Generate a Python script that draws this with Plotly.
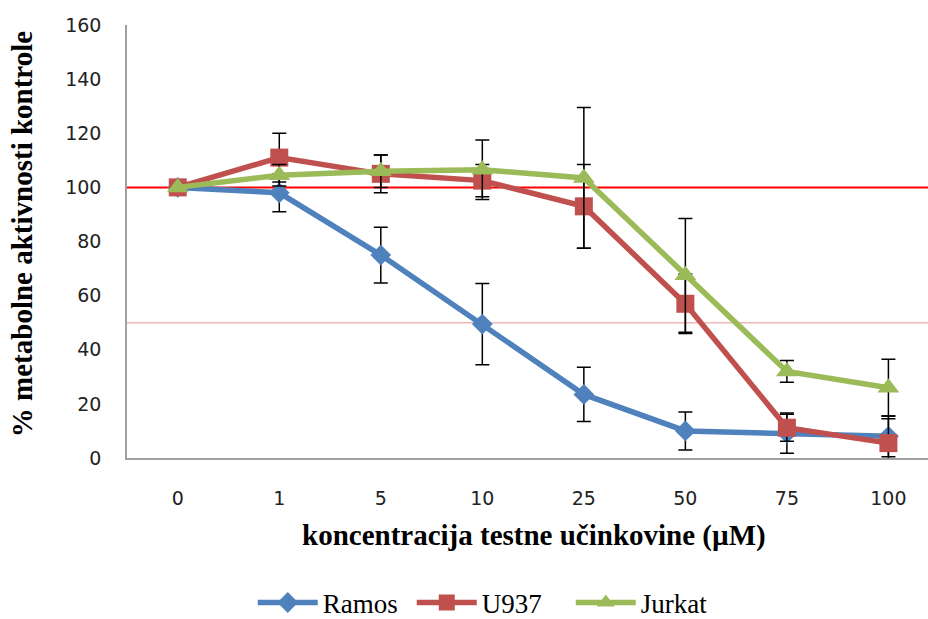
import plotly.graph_objects as go

categories = ["0", "1", "5", "10", "25", "50", "75", "100"]
ramos = [100, 98, 75, 49.5, 23.5, 10, 9.2, 8]
ramos_err = [0, 7, 10.3, 15, 10, 7, 7.4, 7.5]
u937 = [100, 111, 105, 102.5, 93, 57, 11.2, 5.5]
u937_err = [0, 9, 7, 6, 15.5, 11, 5, 9]
jurkat = [100, 104.5, 106, 106.5, 103.5, 67.5, 32, 26]
jurkat_err = [0, 4, 6, 11, 26, 21, 4, 10.5]

series = [
    ("Ramos", ramos, ramos_err, "#4F81BD", "diamond", 16),
    ("U937", u937, u937_err, "#C0504D", "square", 18),
    ("Jurkat", jurkat, jurkat_err, "#9BBB59", "triangle-up", 19),
]

SERIF = "Liberation Serif, Times New Roman, serif"

fig = go.Figure()
for name, vals, errs, color, sym, size in series:
    fig.add_trace(go.Scatter(
        x=categories, y=vals, name=name, mode="lines+markers",
        line=dict(color=color, width=5.5),
        marker=dict(symbol=sym, size=size, color=color),
        error_y=dict(type="data", array=errs, visible=True,
                     color="black", thickness=1.5, width=7),
    ))

fig.add_shape(type="line", xref="paper", x0=0, x1=1, yref="y", y0=100, y1=100,
              line=dict(color="#FF0000", width=2), layer="below")
fig.add_shape(type="line", xref="paper", x0=0, x1=1, yref="y", y0=50, y1=50,
              line=dict(color="#F2B8B8", width=1.5), layer="below")

fig.update_layout(
    width=928, height=619,
    margin=dict(l=127, r=0, t=25, b=0, autoexpand=False),
    plot_bgcolor="white", paper_bgcolor="white",
    showlegend=True,
    legend=dict(orientation="h", x=0.157, xanchor="left", y=0.027, yanchor="middle",
                font=dict(family=SERIF, size=27, color="black"),
                itemwidth=60, entrywidth=84, entrywidthmode="pixels",
                tracegroupgap=0, bgcolor="rgba(0,0,0,0)"),
    xaxis=dict(type="category", range=[-0.5, 7.39], showgrid=False, zeroline=False,
               showline=True, linecolor="#A0A0A0", linewidth=1.5, ticks="",
               tickfont=dict(family="DejaVu Sans", size=19, color="#222222"),
               ticklabelstandoff=22, anchor="y", automargin=False),
    yaxis=dict(range=[0, 160], dtick=20, showgrid=False, zeroline=False,
               domain=[0.2710, 1], automargin=False,
               showline=True, linecolor="#A0A0A0", linewidth=1.5, ticks="",
               tickfont=dict(family="DejaVu Sans", size=19, color="#222222"),
               ticklabelstandoff=20),
    annotations=[
        dict(text="<b>koncentracija testne učinkovine (µM)</b>", xref="paper", yref="paper",
             x=0.508, y=0.1414, xanchor="center", yanchor="middle", showarrow=False,
             font=dict(family=SERIF, size=29, color="black")),
        dict(text="<b>% metabolne aktivnosti kontrole</b>", xref="paper", yref="paper",
             x=-0.131, y=0.648, xanchor="center", yanchor="middle", showarrow=False,
             textangle=-90,
             font=dict(family=SERIF, size=29, color="black")),
    ],
)

fig.write_html("out.html")
